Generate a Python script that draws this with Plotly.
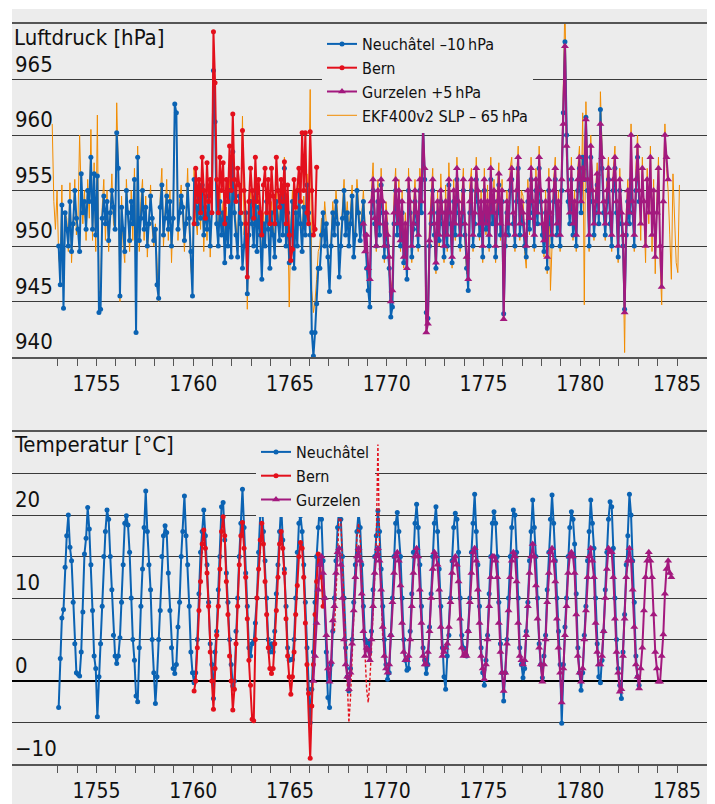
import plotly.graph_objects as go

# ---------------- data (monthly values) ----------------
# Temperature Neuchâtel, monthly from Jan 1753
neu_temp = [
    -3.2, 2.7, 7.6, 8.6, 13.7, 17.5, 20.0, 16.1, 14.5, 9.5, 4.5, 1.0,      # 1753
    0.8, 0.6, 3.5, 8.3, 15.3, 17.2, 20.9, 18.3, 14.0, 8.5, 3.0, 1.5,       # 1754
    -4.3, 0.5, 4.5, 9.0, 15.0, 18.0, 20.6, 19.5, 15.0, 11.0, 5.5, 3.0,     # 1755
    2.1, 3.0, 5.2, 9.5, 14.0, 19.0, 19.9, 18.8, 15.5, 10.0, 5.0, 2.5,      # 1756
    -1.8, -2.5, 4.0, 9.0, 13.5, 18.5, 22.9, 18.0, 14.0, 11.0, 5.0, 1.0,    # 1757
    -2.7, 0.5, 5.0, 8.5, 15.0, 17.5, 18.7, 17.9, 13.0, 8.5, 4.0, 1.5,      # 1758
    0.9, 2.0, 6.5, 9.5, 15.0, 18.0, 22.3, 17.5, 14.0, 9.0, 3.5, 1.0,       # 1759
    -0.2, 1.0, 5.0, 10.5, 15.5, 18.0, 20.6, 17.5, 14.0, 9.5, 4.5, 2.0,     # 1760
    -2.1, 3.5, 6.0, 11.0, 15.0, 21.0, 21.5, 17.0, 13.0, 9.5, 5.0, 2.0,     # 1761
    -0.6, 0.0, 6.0, 10.0, 15.0, 19.0, 23.1, 18.5, 13.0, 9.0, 4.0, 3.0,     # 1762
    4.5, 4.8, 7.0, 10.0, 15.5, 20.0, 22.1, 18.0, 14.5, 10.0, 5.0, 3.5,     # 1763
    4.5, 3.5, 6.0, 10.5, 14.0, 18.0, 21.2, 17.0, 13.5, 9.0, 4.0, 2.5,      # 1764
    2.6, 2.6, 5.0, 10.0, 15.5, 19.0, 19.9, 18.0, 14.0, 9.5, 4.0, -1.0,     # 1765
    -5.0, -1.0, 3.5, 9.5, 15.0, 18.5, 21.4, 19.5, 14.5, 10.0, 3.5, -2.0,   # 1766
    -3.2, 2.0, 6.0, 10.0, 14.5, 18.5, 20.9, 19.5, 15.0, 10.0, 4.0, 0.5,    # 1767
    -1.2, 1.5, 5.0, 9.5, 14.0, 18.0, 20.3, 18.5, 14.0, 9.0, 5.0, 4.6,      # 1768
    4.6, 3.5, 6.0, 11.0, 15.0, 17.5, 20.5, 18.0, 13.5, 9.0, 5.0, 2.0,      # 1769
    0.2, 1.0, 5.5, 10.0, 15.0, 19.0, 20.3, 18.0, 15.0, 10.0, 5.0, 2.5,     # 1770
    1.3, 1.5, 6.0, 10.5, 15.5, 19.0, 21.3, 18.5, 14.0, 9.0, 4.0, 2.5,      # 1771
    0.9, 2.0, 6.5, 10.5, 15.0, 19.0, 21.0, 18.0, 13.5, 9.0, 4.0, 0.5,      # 1772
    -1.0, 3.0, 5.5, 10.0, 14.5, 18.5, 20.2, 19.5, 15.5, 10.0, 5.5, 4.0,    # 1773
    3.9, 3.0, 6.0, 10.0, 15.5, 19.0, 22.5, 18.0, 14.0, 9.0, 4.0, 1.0,      # 1774
    -0.5, 2.5, 5.5, 10.5, 15.0, 19.0, 20.4, 19.0, 15.0, 9.5, 4.5, 1.0,     # 1775
    -2.4, 1.0, 5.0, 10.0, 15.0, 18.5, 20.6, 20.0, 15.5, 10.0, 4.0, 2.0,    # 1776
    0.4, 1.5, 6.0, 9.5, 14.5, 18.0, 21.8, 18.5, 15.0, 10.0, 4.5, 2.0,      # 1777
    0.4, 3.0, 5.5, 11.0, 15.5, 19.5, 22.4, 19.0, 14.5, 10.0, 6.0, 2.0,     # 1778
    -5.1, 2.0, 6.5, 10.0, 15.0, 18.5, 20.4, 19.5, 16.5, 10.5, 4.0, 1.0,    # 1779
    -1.1, 1.0, 5.5, 9.0, 14.5, 18.0, 21.8, 19.0, 16.0, 10.0, 4.5, 0.5,     # 1780
    -0.2, 2.5, 6.0, 11.0, 15.5, 19.5, 21.6, 21.0, 16.0, 10.0, 5.0, 1.5,    # 1781
    -0.5, -2.1, 3.5, 8.0, 14.0, 17.5, 22.5, 20.0, 14.5, 9.5, 3.0, 0.5,     # 1782
    -0.5,                                                                   # 1783
]
neu_temp_start = (1753, 1)

# Temperature Bern, monthly from Jan 1760 (solid)
bern_temp = [
    -1.2, 0.0, 4.0, 8.5, 12.0, 16.5, 18.2, 16.0, 13.0, 9.0, 3.5, 0.0,      # 1760
    -3.4, 1.5, 5.5, 9.0, 13.5, 18.0, 19.8, 17.5, 12.0, 8.0, 3.0, 0.0,      # 1761
    -3.5, -1.0, 4.5, 9.0, 14.0, 17.5, 19.1, 16.0, 12.5, 7.5, 2.5, -0.5,    # 1762
    -4.6, -4.8, 5.0, 10.0, 13.5, 17.0, 19.0, 16.5, 12.0, 8.0, 4.0, 1.5,    # 1763
    0.9, 1.5, 4.5, 8.5, 12.5, 16.5, 18.0, 16.0, 13.0, 7.5, 3.0, 0.5,       # 1764
    -1.6, 0.5, 3.5, 8.0, 11.5, 15.0, 16.7, 16.0, 12.5, 7.0, 2.0, -1.5,     # 1765
    -9.3, -3.0, 2.0, 8.0, 12.0, 15.3, 14.0, 12.5, 9.0,                     # 1766
]
bern_temp_start = (1760, 1)

# Temperature Bern, dashed section from Apr 1767
bern_temp_dashed = [
    6.0, 10.0, 15.0, 20.6, 19.5, 14.0, 9.0, 3.0, -1.0,                     # 1767
    -5.0, -2.0, 3.0, 9.0, 14.0, 17.5, 19.0, 17.0, 12.0, 7.0, 2.0, -1.0,    # 1768
    -2.6, 0.0, 4.0, 9.0, 13.0, 17.0, 28.5, 16.0, 11.0, 5.0,                # 1769
]
bern_temp_dashed_start = (1767, 4)

# Temperature Gurzelen, monthly from Mar 1766
gur_temp = [
    0.0, 3.0, 7.0, 11.0, 14.0, 15.0, 13.0, 10.0, 5.5, 1.5,                 # 1766
    -0.1, 2.3, 7.3, 9.0, 13.0, 15.5, 16.0, 14.0, 10.0, 5.0, 2.0, 0.5,      # 1767
    -1.0, 1.0, 4.5, 8.5, 12.5, 15.0, 16.0, 14.5, 10.5, 6.0, 3.0, 4.0,      # 1768
    3.7, 2.5, 5.0, 9.0, 13.0, 15.0, 16.0, 14.5, 11.0, 6.5, 3.0, 1.5,       # 1769
    1.0, 2.0, 5.5, 9.5, 13.0, 15.0, 15.5, 14.5, 11.5, 7.0, 3.5, 2.5,       # 1770
    2.5, 3.0, 5.0, 9.0, 13.0, 15.0, 16.0, 15.0, 11.0, 7.0, 3.0, 2.0,       # 1771
    2.0, 3.5, 6.0, 10.0, 13.5, 15.5, 15.0, 14.0, 11.0, 6.5, 3.0, 3.5,      # 1772
    4.0, 4.5, 6.5, 9.5, 13.0, 14.5, 15.0, 14.0, 12.0, 7.5, 4.0, 3.0,       # 1773
    3.4, 3.0, 6.0, 9.5, 13.0, 15.5, 16.0, 14.5, 11.0, 7.0, 3.0, 1.5,       # 1774
    0.2, 2.0, 5.0, 9.0, 12.5, 15.0, 15.0, 14.5, 12.5, 7.0, 3.5, 1.0,       # 1775
    -1.2, 1.0, 4.5, 8.5, 12.5, 14.5, 15.5, 15.0, 12.0, 7.0, 3.0, 2.5,      # 1776
    2.0, 2.5, 5.5, 9.0, 13.0, 15.0, 16.5, 15.0, 11.5, 7.5, 4.0, 2.0,       # 1777
    -0.1, 2.0, 5.0, 9.5, 13.0, 15.5, 16.0, 14.5, 12.0, 7.5, 4.0, 1.0,      # 1778
    -2.6, 1.5, 5.5, 9.0, 13.0, 15.0, 15.5, 15.0, 13.0, 8.0, 3.0, 1.0,      # 1779
    -0.1, 1.5, 5.0, 8.5, 12.5, 15.0, 16.0, 14.5, 12.5, 7.0, 3.5, 2.0,      # 1780
    2.0, 3.0, 6.0, 10.0, 13.5, 16.0, 15.5, 15.5, 12.5, 7.5, 3.5, 1.0,      # 1781
    -1.3, -1.0, 3.0, 7.5, 12.5, 14.5, 16.0, 14.5, 11.0, 6.5, 2.0, 0.5,     # 1782
    -0.9, 1.5, 4.0, 8.5, 12.5, 14.5, 15.5, 14.5, 12.5, 8.0, 3.5, 1.5,      # 1783
    -0.1, -0.1, 3.0, 5.6, 10.5, 13.5, 14.5, 13.0, 12.5,                    # 1784
]
gur_temp_start = (1766, 3)

# Pressure Neuchâtel (-10 hPa), monthly from Jan 1753
neu_pres = [
    950, 946.5, 953.7, 944.4, 953, 951.5, 950, 954, 949.5, 952, 955, 952.5,        # 1753
    951.5, 949.5, 956.5, 953, 954, 951.5, 955, 954, 958, 951.5, 956.5, 951,        # 1754
    956.3, 944.0, 944.3, 952.5, 954.5, 952, 954, 950.5, 953, 955, 953.5, 951.5,    # 1755
    960.2, 957.0, 945.5, 953.5, 951.5, 949.5, 955, 953, 950.5, 954, 952, 956,      # 1756
    942.2, 958, 950.5, 952.5, 955, 951.5, 953.5, 950, 952, 954.5, 952.5, 950.5,    # 1757
    951.5, 946.5, 945.3, 953.5, 955.5, 951, 952.5, 954.5, 951.5, 954, 950, 952.5,  # 1758
    962.8, 962, 951.5, 953, 954.5, 953.5, 950.5, 952, 955.5, 952.5, 949.5, 945.5,  # 1759
    956, 953.5, 952, 954.5, 952.5, 955.5, 951, 953.5, 951.5, 954.5, 950, 953,      # 1760
    965.8, 961.2, 952, 950, 954, 951, 953, 948.5, 952.5, 950, 955, 949,            # 1761
    958.5, 953, 951, 949, 954.5, 952, 948, 950, 953, 945.7, 951, 954,              # 1762
    952, 950, 955, 949.5, 953.5, 951, 947, 952, 950, 954, 951.5, 948,              # 1763
    953, 951, 949, 954, 952, 950.5, 955, 951, 957, 950, 953, 948.5,                # 1764
    951, 954, 948, 953, 950, 955, 952, 949.5, 953.5, 951, 955.5, 953,              # 1765
    951, 942.2, 940.1, 942.2, 944.8, 948, 948, 951, 953, 950, 952, 949,            # 1766
    945.9, 950, 953, 951, 954, 952, 947.2, 950, 952.5, 955, 951, 953,              # 1767
    950, 952, 954.5, 949, 951, 955, 953, 950.5, 952, 954, 951, 948,                # 1768
    946, 944.5, 953, 955, 952, 950, 954, 951, 955.5, 953, 949, 952,                # 1769
    950, 948, 943.6, 944.5, 952, 955, 951, 954, 950, 953, 948.5, 951,              # 1770
    947, 955, 953, 949, 951.5, 954, 952, 950, 955, 953, 961.1, 956,                # 1771
    944, 943.5, 950, 952, 955, 951, 948, 953, 950.5, 954, 952, 949,                # 1772
    953, 950, 955.5, 952, 948.5, 954, 951, 956, 953, 950, 952, 955,                # 1773
    951, 948, 946, 953, 955, 950, 952, 956, 954, 951, 953, 949,                    # 1774
    955, 951.5, 953, 950, 956, 952, 954, 949, 953, 955.5, 951, 954,                # 1775
    943.9, 950, 953, 951, 955, 956, 952, 950, 954, 957, 951, 953,                  # 1776
    952, 950, 949, 954, 951.5, 956, 953, 950, 955, 952, 957, 954,                  # 1777
    951, 949.5, 953, 948, 955, 952, 950, 954, 956, 951, 953, 950,                  # 1778
    955, 962, 968.4, 960, 954, 952, 956, 951, 953, 950, 955, 957,                  # 1779
    953, 958, 956, 961.6, 955, 950, 958, 954, 951, 953, 955.5, 952,                # 1780
    962.3, 957, 953, 951, 954, 956, 952, 950, 955, 957, 953, 949,                  # 1781
    955, 952, 950, 944.3, 951, 954, 952, 956, 953, 950, 955, 958,                  # 1782
    954,                                                                            # 1783
]
neu_pres_start = (1753, 1)

# Pressure Bern, monthly from Jan 1760
bern_pres = [
    952, 957, 954, 956, 953, 958, 955, 952.5, 957.5, 954, 956, 953,                # 1760
    969.3, 964.7, 956, 953, 958, 955, 957.5, 952, 956, 954, 959, 955,              # 1761
    961.9, 956, 954, 957, 955.5, 953, 960.4, 955, 952, 947.2, 954, 957,            # 1762
    955, 952.5, 958, 954, 956, 953, 951, 955.5, 957, 953, 956, 952,                # 1763
    957, 954.5, 952, 958, 955, 953.5, 956, 954, 957.6, 952, 955.5, 951,            # 1764
    948.7, 949.7, 956, 953.5, 955, 957, 954, 960.2, 955, 960.2, 953, 952,          # 1765
    960.3, 955, 951, 951.5, 957.1,                                                  # 1766
]
bern_pres_start = (1760, 1)

# Pressure Gurzelen (+5 hPa), monthly from Oct 1768
gur_pres = [
    952, 949.5, 951,                                                                # 1768
    948, 947, 954, 956, 952.5, 950, 955, 952, 956, 954, 950, 953,                  # 1769
    951, 949, 945, 946, 953, 956, 952, 955, 950.5, 954, 949, 952,                  # 1770
    948, 956, 954, 950, 952, 955, 953, 951, 956, 954, 960.5, 957,                  # 1771
    942.2, 943, 950.5, 953, 956, 952, 948.5, 954, 951, 955, 953, 950,              # 1772
    954, 951, 956, 953, 949, 955, 952, 957, 954, 951, 953, 956,                    # 1773
    952, 949, 947, 954, 956, 951, 953, 957, 955, 952, 954, 950,                    # 1774
    956, 952, 954, 951, 957, 953, 955, 950, 954, 956.5, 952, 955,                  # 1775
    943.4, 951, 954, 952, 956, 957, 953, 951, 955, 958, 952, 954,                  # 1776
    953, 951, 950, 955, 952.5, 957, 954, 951, 956, 953, 958, 955,                  # 1777
    952, 950.5, 954, 949, 956, 953, 951, 955, 957, 952, 954, 951,                  # 1778
    956, 961, 968, 959, 955, 953, 957, 952, 954, 951, 956, 958,                    # 1779
    954, 957, 956, 961.4, 956, 951, 959, 955, 952, 954, 956.5, 953,                # 1780
    961, 958, 954, 952, 955, 957, 953, 951, 956, 958, 954, 950,                    # 1781
    956, 953, 951, 944, 952, 955, 953, 960, 954, 951, 956, 959,                    # 1782
    955, 952, 957, 954, 950, 956, 953, 958, 951, 955, 949, 953,                    # 1783
    957, 950, 946.3, 954, 960, 958, 956,                                           # 1784
]
gur_pres_start = (1768, 10)

# EKF400v2 SLP (-65 hPa), monthly from Sep 1752
ekf_pres = [
    961, 954, 951.5, 955,                                                           # 1752
    949, 948, 955.5, 946, 953, 952.5, 949.5, 955.7, 948.5, 952, 956, 951,          # 1753
    952.5, 960, 954.5, 952, 955, 950.5, 956, 952.5, 960.5, 950.5, 957.5, 949.5,    # 1754
    961.8, 946, 945.5, 953.5, 956, 950.5, 955, 949.5, 954, 956.5, 952, 951.5,      # 1755
    962.9, 957, 945, 954.5, 950, 948.5, 956, 952, 949.5, 955, 950.5, 957,          # 1756
    944.5, 959, 949.5, 954, 956, 950.5, 954.5, 949, 953, 955.5, 951.5, 950,        # 1757
    952, 947.5, 945, 954.5, 957, 950, 953.5, 956, 950.5, 955, 948.5, 953.5,        # 1758
    962.4, 961, 950.5, 954, 955.5, 952.5, 949.5, 953, 957, 951.5, 948, 946.5,      # 1759
    957, 952.5, 951, 955.5, 951.5, 956.5, 949.5, 954.5, 950.5, 955.5, 949, 954,    # 1760
    966.5, 962, 953, 951, 955, 952, 954, 949.5, 953.5, 951, 956, 950,              # 1761
    959, 954, 952, 950, 955.5, 953, 961.7, 951, 954, 944.3, 952, 955,              # 1762
    953, 951, 956, 950.5, 954.5, 952, 948, 953, 951, 955, 952.5, 949,              # 1763
    954, 952, 950, 955, 953, 951.5, 956, 952, 958, 951, 954, 944.5,                # 1764
    952, 955, 949, 954, 951, 956, 953, 950.5, 954.5, 952, 956.5, 954,              # 1765
    964.1, 946, 944, 945, 947, 949.5, 950, 952.5, 951, 954, 952, 949,              # 1766
    947, 951, 954, 952, 955, 953, 948, 951, 953.5, 956, 952, 954,                  # 1767
    951, 953, 955.5, 950, 952, 956, 954, 951.5, 953, 955, 952, 949,                # 1768
    948, 945, 955, 957.5, 952, 949.5, 956, 951, 957, 953, 948.5, 954,              # 1769
    952, 947.5, 946, 947, 954.5, 957, 951, 956, 949.5, 955, 948, 953,              # 1770
    949.5, 957, 953, 948.5, 953.5, 956, 952, 949.5, 957, 955, 962, 955.5,          # 1771
    943.5, 945, 952, 954.5, 957, 950.5, 947.5, 955, 950, 956.5, 952, 948.5,        # 1772
    955.5, 949.5, 957.5, 952, 948, 956, 950.5, 958, 953, 949.5, 954.5, 957,        # 1773
    950.5, 947.5, 948, 955.5, 957, 949.5, 954, 958, 954, 950.5, 955, 948.5,        # 1774
    957, 951, 955.5, 949.5, 958, 952, 956, 948.5, 955, 957.5, 950.5, 956,          # 1775
    945, 949.5, 955, 951, 957, 958, 952, 949.5, 956, 959, 950.5, 955,              # 1776
    954.5, 949.5, 948, 956, 951, 958, 953, 949.5, 957, 952, 959, 954,              # 1777
    953, 949, 955, 947.5, 957, 946, 950, 956, 958, 951, 955, 949.5,                # 1778
    957, 963, 972, 961, 954, 952, 958, 950.5, 955, 949.5, 957, 959,                # 1779
    953, 962, 944.7, 963, 955, 949.5, 960, 954, 950.5, 955, 957.5, 952,            # 1780
    963.9, 959, 953, 950.5, 956, 958, 952, 949.5, 957, 959, 953, 948.5,            # 1781
    957, 952, 949.5, 940.4, 953, 956, 952, 961, 953, 949.5, 957, 960,              # 1782
    956, 950.5, 958, 953, 948.5, 957, 952, 959, 949.5, 956, 947.5, 954,            # 1783
    958, 948.5, 944.7, 955, 961, 957, 955, 951, 947, 956.5, 952, 948.5,            # 1784
    947.6, 955.5,                                                                   # 1785
]
ekf_pres_start = (1752, 9)

x_tick_years = [1755, 1760, 1765, 1770, 1775, 1780, 1785]
x_minor_years = list(range(1753, 1786))
p_ticks = [940, 945, 950, 955, 960, 965]
t_ticks = [-10, 0, 10, 20]
t_minor = [-5, 5, 15, 25]

names_p = ["Neuchâtel \u201310\u2009hPa", "Bern", "Gurzelen +5\u2009hPa", "EKF400v2 SLP \u2013 65\u2009hPa"]
names_t = ["Neuchâtel", "Bern", "Gurzelen"]


def month_axis(start, n):
    y0, m0 = start
    return [y0 + (m0 - 1 + i + 0.5) / 12.0 for i in range(n)]


# ---------------- styling ----------------
FONT = "DejaVu Sans Condensed, Liberation Sans Narrow, Arial Narrow, sans-serif"
BLUE = "#0b63b3"
RED = "#e3101c"
PURPLE = "#a3197e"
ORANGE = "#f28c00"
BG = "#ececec"
GRID = "#3a3a3a"
W, H = 715, 804


def px_x(p):
    return p / W


def px_y(p):
    return 1 - p / H


fig = go.Figure()

# ---- pressure panel ----
fig.add_trace(go.Scatter(x=month_axis(ekf_pres_start, len(ekf_pres)), y=ekf_pres,
                         mode="lines", line=dict(color=ORANGE, width=1),
                         name=names_p[3], legend="legend", legendrank=4,
                         xaxis="x", yaxis="y"))
fig.add_trace(go.Scatter(x=month_axis(neu_pres_start, len(neu_pres)), y=neu_pres,
                         mode="lines+markers", line=dict(color=BLUE, width=2),
                         marker=dict(symbol="circle", size=5, color=BLUE),
                         name=names_p[0], legend="legend", legendrank=1,
                         xaxis="x", yaxis="y"))
fig.add_trace(go.Scatter(x=month_axis(bern_pres_start, len(bern_pres)), y=bern_pres,
                         mode="lines+markers", line=dict(color=RED, width=2),
                         marker=dict(symbol="circle", size=5, color=RED),
                         name=names_p[1], legend="legend", legendrank=2,
                         xaxis="x", yaxis="y"))
fig.add_trace(go.Scatter(x=month_axis(gur_pres_start, len(gur_pres)), y=gur_pres,
                         mode="lines+markers", line=dict(color=PURPLE, width=2),
                         marker=dict(symbol="triangle-up", size=7, color=PURPLE),
                         name=names_p[2], legend="legend", legendrank=3,
                         xaxis="x", yaxis="y"))

# ---- temperature panel ----
fig.add_trace(go.Scatter(x=month_axis(neu_temp_start, len(neu_temp)), y=neu_temp,
                         mode="lines+markers", line=dict(color=BLUE, width=2),
                         marker=dict(symbol="circle", size=5, color=BLUE),
                         name=names_t[0], legend="legend2", legendrank=1,
                         xaxis="x2", yaxis="y2"))
fig.add_trace(go.Scatter(x=month_axis(bern_temp_start, len(bern_temp)), y=bern_temp,
                         mode="lines+markers", line=dict(color=RED, width=2),
                         marker=dict(symbol="circle", size=5, color=RED),
                         name=names_t[1], legend="legend2", legendrank=2,
                         xaxis="x2", yaxis="y2"))
fig.add_trace(go.Scatter(x=month_axis(bern_temp_dashed_start, len(bern_temp_dashed)), y=bern_temp_dashed,
                         mode="lines", line=dict(color=RED, width=1.4, dash="3px,2px"),
                         showlegend=False, xaxis="x2", yaxis="y2"))
fig.add_trace(go.Scatter(x=month_axis(gur_temp_start, len(gur_temp)), y=gur_temp,
                         mode="lines+markers", line=dict(color=PURPLE, width=2),
                         marker=dict(symbol="triangle-up", size=7, color=PURPLE),
                         name=names_t[2], legend="legend2", legendrank=3,
                         xaxis="x2", yaxis="y2"))

xdom = [px_x(12), px_x(707)]
xrange_ = [1750.63, 1786.55]
xcommon = dict(domain=xdom, range=xrange_, tickmode="array", tickvals=x_tick_years,
               ticks="outside", ticklen=7, tickwidth=1, tickcolor="#555",
               showline=True, linecolor="#555", linewidth=1.5, mirror=True,
               showgrid=False, zeroline=False,
               tickfont=dict(family=FONT, size=21, color="#111"),
               minor=dict(tickmode="array", tickvals=x_minor_years, ticks="outside",
                          ticklen=7, tickwidth=1, tickcolor="#555"))

fig.update_layout(
    width=W, height=H,
    margin=dict(l=0, r=0, t=0, b=0),
    paper_bgcolor="white", plot_bgcolor=BG,
    font=dict(family=FONT, color="#111"),
    xaxis=dict(anchor="y", **xcommon),
    xaxis2=dict(anchor="y2", **xcommon),
    yaxis=dict(domain=[px_y(357), px_y(24)], range=[940, 970], anchor="x",
               tickmode="array", tickvals=p_ticks, ticklabelposition="inside top",
               ticks="", showgrid=True, gridcolor=GRID, gridwidth=1, zeroline=False,
               showline=False, tickfont=dict(family=FONT, size=22, color="#111")),
    yaxis2=dict(domain=[px_y(764), px_y(432)], range=[-10, 30], anchor="x2",
                tickmode="array", tickvals=t_ticks, ticklabelposition="inside top",
                ticks="", showgrid=True, gridcolor=GRID, gridwidth=1,
                zeroline=True, zerolinecolor="#000", zerolinewidth=2, showline=False,
                tickfont=dict(family=FONT, size=22, color="#111"),
                minor=dict(tickmode="array", tickvals=t_minor, showgrid=True,
                           gridcolor=GRID, gridwidth=1)),
    legend=dict(x=px_x(322), y=px_y(27), xanchor="left", yanchor="top",
                bgcolor=BG, font=dict(family=FONT, size=16, color="#111"),
                tracegroupgap=0, itemwidth=30, traceorder="normal"),
    legend2=dict(x=px_x(256), y=px_y(435), xanchor="left", yanchor="top",
                 bgcolor=BG, font=dict(family=FONT, size=16, color="#111"),
                 tracegroupgap=0, itemwidth=30, traceorder="normal"),
    showlegend=True,
    shapes=[dict(type="rect", xref="paper", yref="paper", x0=px_x(12), x1=px_x(707),
                 y0=0, y1=px_y(9), fillcolor=BG, line=dict(width=0), layer="below")],
    annotations=[
        dict(text="Luftdruck [hPa]", xref="paper", yref="paper", x=px_x(12), y=px_y(37),
             xanchor="left", yanchor="middle", showarrow=False,
             font=dict(family=FONT, size=22, color="#111")),
        dict(text="Temperatur [°C]", xref="paper", yref="paper", x=px_x(12), y=px_y(445),
             xanchor="left", yanchor="middle", showarrow=False,
             font=dict(family=FONT, size=22, color="#111")),
    ],
)

fig.write_html("out.html", config={"displayModeBar": False},
               post_script="document.body.style.margin='0';document.body.style.overflow='hidden';")
